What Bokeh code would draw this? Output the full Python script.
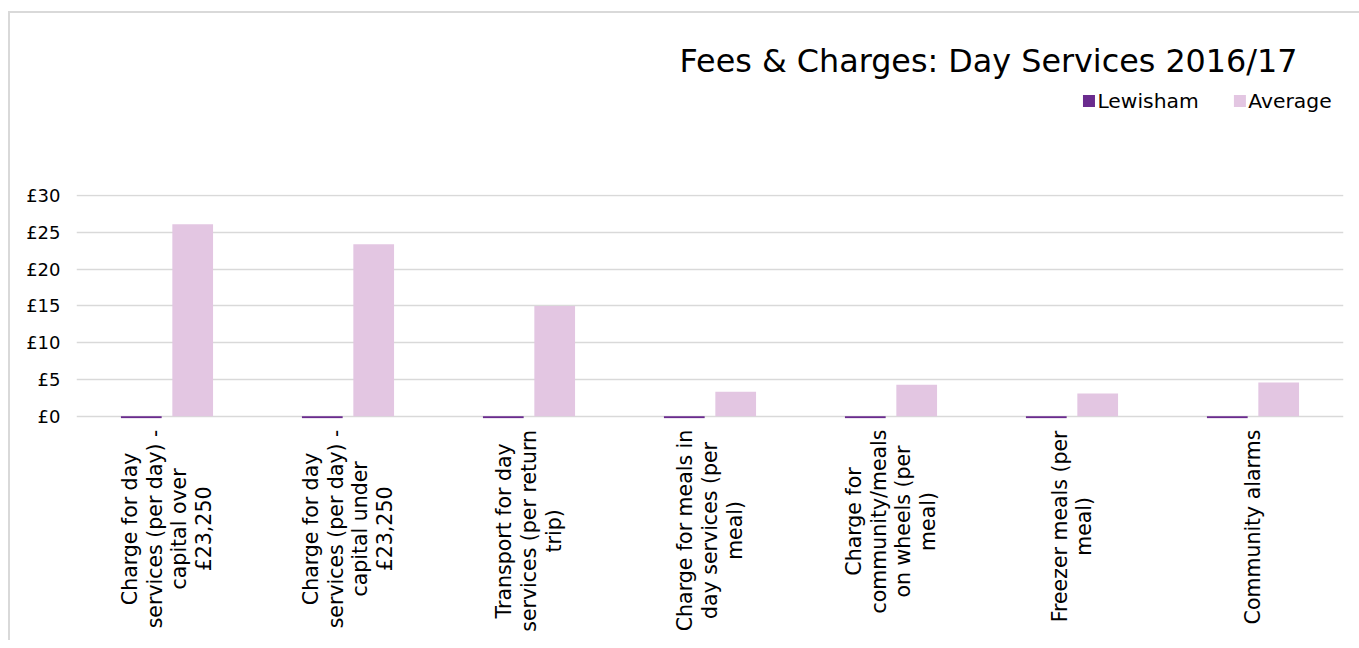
import math
from bokeh.plotting import figure
from bokeh.layouts import column
from bokeh.core.properties import value
from bokeh.models import (ColumnDataSource, FactorRange, Range1d, PrintfTickFormatter,
                          Label, FixedTicker)
from bokeh.transform import dodge
from bokeh.embed import file_html
from bokeh.resources import INLINE

# ---------------- data ----------------
categories = [
    "Charge for day\nservices (per day) -\ncapital over\n£23,250",
    "Charge for day\nservices (per day) -\ncapital under\n£23,250",
    "Transport for day\nservices (per return\ntrip)",
    "Charge for meals in\nday services (per\nmeal)",
    "Charge for\ncommunity/meals\non wheels (per\nmeal)",
    "Freezer meals (per\nmeal)",
    "Community alarms",
]
lewisham = [-0.25, -0.25, -0.25, -0.25, -0.25, -0.25, -0.25]
average = [26.1, 23.4, 15.0, 3.35, 4.3, 3.1, 4.6]
y_ticks = [0, 5, 10, 15, 20, 25, 30]
series_names = ["Lewisham", "Average"]
title_text = "Fees & Charges: Day Services 2016/17"

# ---------------- style ----------------
FONT = "DejaVu Sans"
LEW_COLOR = "#6A2B8E"
AVG_COLOR = "#E3C6E2"
series_colors = [LEW_COLOR, AVG_COLOR]
GRID = "#D9D9D9"
W = 1349
LEFT, RIGHT = 66, 16
LABEL_PX = 20.5
LEGEND_PX = 20.3

# approximate DejaVu Sans advance widths (em) used for text layout
CW = {' ': .318, '(': .390, ')': .390, ',': .318, '-': .361, '/': .337, '£': .636,
      'C': .698, 'F': .575, 'T': .611, 'L': .557, 'A': .684, 'a': .613, 'c': .550,
      'd': .635, 'e': .615, 'f': .352, 'g': .635, 'h': .634, 'i': .278, 'l': .278,
      'm': .974, 'n': .634, 'o': .612, 'p': .635, 'r': .411, 's': .521, 't': .392,
      'u': .634, 'v': .592, 'w': .818, 'y': .592, 'z': .525, 'k': .579, 'b': .635}


def text_len(s, px):
    return sum(CW.get(ch, .636) for ch in s) * px


src = ColumnDataSource(dict(cat=categories, lew=lewisham, avg=average))
xr = FactorRange(factors=categories)

# ---------------- header (title + legend) ----------------
top = figure(width=W, height=170, x_range=Range1d(0, W), y_range=Range1d(170, 0),
             output_backend="svg", toolbar_location=None, min_border=0,
             x_axis_location=None, y_axis_location=None, outline_line_color=None,
             background_fill_color="white", border_fill_color="white")
top.grid.visible = False
top.add_layout(Label(x=1300, y=47, text=title_text, text_align="right",
                     text_baseline="alphabetic", text_font=FONT,
                     text_font_size="31.8px", text_color="#000000"))

# legend: square swatch + label per series
SQ, STANDOFF, GAP = 12, 3, 44
sq_x, lab_x = [], []
cur = 1072
for name in series_names:
    sq_x.append(cur + SQ / 2)
    lab_x.append(cur + SQ + STANDOFF)
    cur += SQ + STANDOFF + text_len(name, LEGEND_PX) + GAP
leg_src = ColumnDataSource(dict(sx=sq_x, lx=lab_x, y=[87.5] * len(series_names),
                                name=series_names, color=series_colors))
top.scatter(x="sx", y="y", marker="square", size=SQ, fill_color="color",
            line_color=None, source=leg_src)
top.text(x="lx", y="y", text="name", source=leg_src, text_align="left",
         text_baseline="middle", text_font=value(FONT),
         text_font_size=f"{LEGEND_PX}px", text_color="#000000")

# ---------------- main chart ----------------
p = figure(x_range=xr, y_range=Range1d(-0.3, 30.15), width=W, height=247,
           output_backend="svg", toolbar_location=None,
           min_border_left=LEFT, min_border_right=RIGHT, min_border_top=11,
           min_border_bottom=12, x_axis_location=None,
           background_fill_color="white", border_fill_color="white",
           outline_line_color=None)
p.vbar(x=dodge("cat", -0.142, range=xr), top="lew", bottom=0, width=0.225,
       source=src, fill_color=LEW_COLOR, line_color=None)
p.vbar(x=dodge("cat", 0.142, range=xr), top="avg", bottom=0, width=0.225,
       source=src, fill_color=AVG_COLOR, line_color=None)
p.xgrid.grid_line_color = None
p.ygrid.grid_line_color = GRID
p.ygrid.grid_line_width = 1.5
p.yaxis.ticker = FixedTicker(ticks=y_ticks)
p.yaxis.formatter = PrintfTickFormatter(format="£%d")
p.yaxis.axis_line_color = None
p.yaxis.major_tick_line_color = None
p.yaxis.minor_tick_line_color = None
p.yaxis.major_tick_out = 0
p.yaxis.major_tick_in = 0
p.yaxis.major_label_standoff = 16
p.yaxis.major_label_text_font = FONT
p.yaxis.major_label_text_font_size = "18px"
p.yaxis.major_label_text_color = "#000000"

# ---------------- category labels ----------------
lab_y = [max(text_len(line, LABEL_PX) for line in c.split("\n")) / 2 - 1 for c in categories]
lab_src = ColumnDataSource(dict(cat=categories, y=lab_y))
bot = figure(x_range=xr, y_range=Range1d(210, 0), width=W, height=210,
             output_backend="svg", toolbar_location=None,
             min_border_left=LEFT, min_border_right=RIGHT, min_border_top=0,
             min_border_bottom=0, x_axis_location=None, y_axis_location=None,
             outline_line_color=None, background_fill_color="white",
             border_fill_color="white")
bot.grid.visible = False
bot.text(x="cat", y="y", text="cat", source=lab_src, angle=math.pi / 2,
         text_align="center", text_baseline="middle", text_font=value(FONT),
         text_font_size=f"{LABEL_PX}px", text_color="#000000", text_line_height=1.04)

layout = column(top, p, bot, spacing=0,
                styles={"border-top": f"2px solid {GRID}", "border-left": f"2px solid {GRID}",
                        "margin-top": "11px", "margin-left": "8px"})

open("out.html", "w").write(file_html(layout, INLINE))
